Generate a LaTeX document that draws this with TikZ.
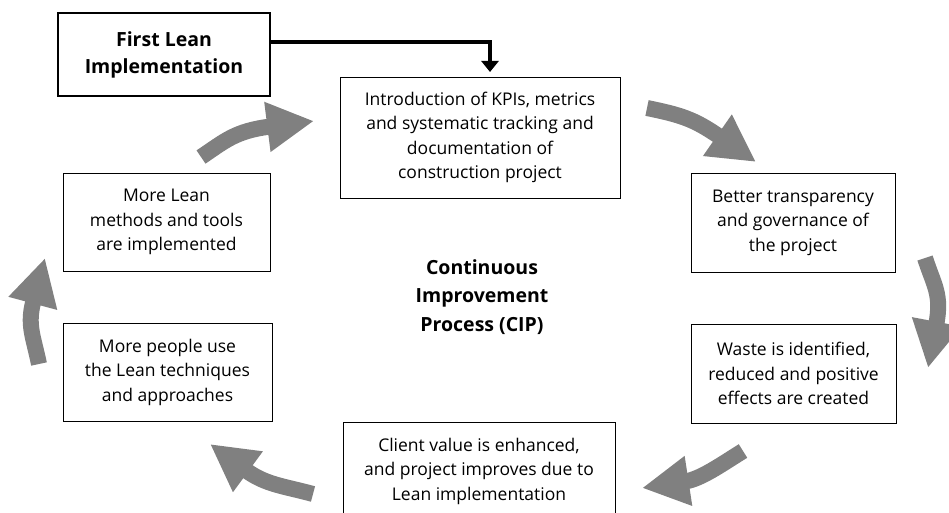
\documentclass[tikz,border=0pt]{standalone}
\usepackage{fontspec}
\setmainfont{Open Sans}
\usetikzlibrary{arrows.meta}

\begin{document}
\begin{tikzpicture}[x=1pt, y=-1pt,
    box/.style={draw, rectangle, line width=0.8pt, inner sep=0pt, align=center, font=\fontsize{17.5}{24.5}\selectfont},
    startbox/.style={box, line width=1.8pt, font=\bfseries\fontsize{19.5}{27}\selectfont},
    link/.style={-{Triangle[length=11pt,width=17pt]}, line width=3.5pt},
    cycle/.style={-{Triangle[length=47pt,width=47pt]}, line width=16pt, gray}
  ]
    \useasboundingbox (0,0) rectangle (949,513);
    \clip (0,0) rectangle (949,513);

    % Nodes
    \node[startbox, minimum width=212pt, minimum height=83pt] (first) at (164,54.5) {First Lean\\Implementation};
    \node[box, minimum width=280pt, minimum height=121pt] (kpi) at (480,137.5) {Introduction of KPIs, metrics\\and systematic tracking and\\documentation of\\construction project};
    \node[box, minimum width=204pt, minimum height=99pt] (transp) at (793,222.5) {Better transparency\\and governance of\\the project};
    \node[box, minimum width=205pt, minimum height=99pt] (waste) at (793.5,373.5) {Waste is identified,\\reduced and positive\\effects are created};
    \node[box, minimum width=272pt, minimum height=98pt] (client) at (479,471) {Client value is enhanced,\\and project improves due to\\Lean implementation};
    \node[box, minimum width=209pt, minimum height=98pt] (people) at (167.5,372) {More people use\\the Lean techniques\\and approaches};
    \node[box, minimum width=207pt, minimum height=98pt] (methods) at (166.5,222) {More Lean\\methods and tools\\are implemented};

    % Centre label
    \node[align=center, font=\bfseries\fontsize{19.5}{28.5}\selectfont] (cip) at (482,297) {Continuous\\Improvement\\Process (CIP)};

    % Entry arrow
    \coordinate (entry) at (490,72);
    \draw[link] ([yshift=12.5pt]first.east) -| (entry);

    % Cycle arrows
    \coordinate (t1) at (201,157);   \coordinate (h1) at (314,121);
    \coordinate (t2) at (647,108);   \coordinate (h2) at (756,162);
    \coordinate (t3) at (925,258);   \coordinate (h3) at (928,368);
    \coordinate (t4) at (743,451);   \coordinate (h4) at (642,488);
    \coordinate (t5) at (313,494);   \coordinate (h5) at (210,444);
    \coordinate (t6) at (39,364);    \coordinate (h6) at (45,258);

    \draw[cycle] (t1) .. controls (225,141) and (235,131) .. (h1);
    \draw[cycle] (t2) .. controls (681,115) and (694,119) .. (h2);
    \draw[cycle] (t3) .. controls (934,286) and (942,294) .. (h3);
    \draw[cycle] (t4) .. controls (722,464) and (701,479) .. (h4);
    \draw[cycle] (t5) .. controls (284,486) and (266,485) .. (h5);
    \draw[cycle] (t6) .. controls (33,335) and (27,325) .. (h6);
\end{tikzpicture}
\end{document}
